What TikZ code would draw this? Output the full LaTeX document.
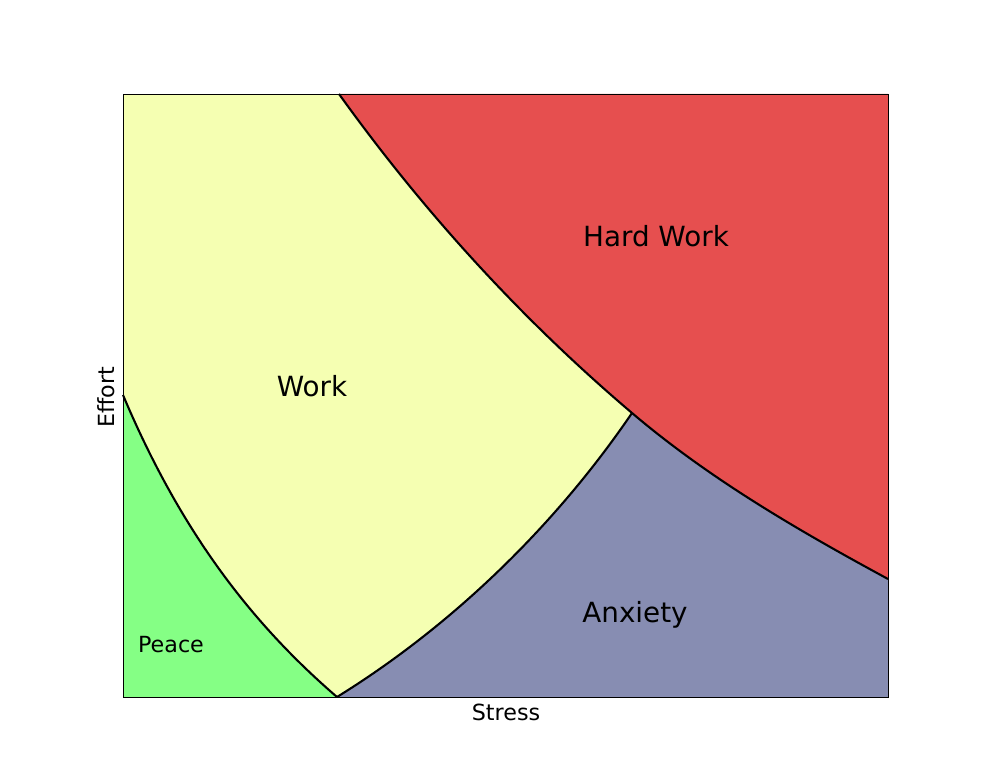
\documentclass[tikz,border=0pt]{standalone}
\usepackage{fontspec}
\setmainfont{DejaVu Sans}
\begin{document}
\begin{tikzpicture}[x=0.72pt,y=-0.72pt,
  curve/.style={black,line width=1.5pt,line join=round},
  big/.style={font=\fontsize{20}{24}\selectfont},
  small/.style={font=\fontsize{16}{19}\selectfont}]
\definecolor{cwork}{HTML}{F5FFB2}
\definecolor{chard}{HTML}{E64F4F}
\definecolor{canx}{HTML}{878DB2}
\definecolor{cpeace}{HTML}{85FF85}
\useasboundingbox (0,0) rectangle (986,783);
\coordinate (p0) at (123,395);
\coordinate (b0) at (337,697);
\coordinate (m0) at (632,413);
\coordinate (h0) at (339,94);
\coordinate (h1) at (888,579);
% background of axes
\fill[cwork] (123,94) rectangle (888,697);
% anxiety
\fill[canx] (b0) .. controls (452.6,625.5) and (555.4,525.5) .. (m0) -- (888,413) -- (888,697) -- cycle;
% hard work
\fill[chard] (h0) .. controls (423.5,211.7) and (521.5,319.2) .. (m0)
  .. controls (709.7,479) and (798.3,530.4) .. (h1) -- (888,94) -- cycle;
% peace
\fill[cpeace] (p0) .. controls (180,530) and (250,622) .. (b0) -- (123,697) -- cycle;
% boundaries
\draw[curve] (b0) .. controls (452.6,625.5) and (555.4,525.5) .. (m0);
\draw[curve] (h0) .. controls (423.5,211.7) and (521.5,319.2) .. (m0)
  .. controls (709.7,479) and (798.3,530.4) .. (h1);
\draw[curve] (p0) .. controls (180,530) and (250,622) .. (b0);
% frame
\node[draw=black,line width=0.8pt,minimum width=765*0.72pt,minimum height=603*0.72pt,inner sep=0pt,anchor=north west] (axes) at (123,94) {};
% labels
\node[big] (hard) at (656,236) {Hard Work};
\node[big] (work) at (312,386) {Work};
\node[big] (anx) at (635,615) {Anxiety};
\node[small] (peace) at (171,645) {Peace};
\node[small] (xl) at (506,712) {Stress};
\node[small,rotate=90] (yl) at (106,397) {Effort};
\end{tikzpicture}
\end{document}
